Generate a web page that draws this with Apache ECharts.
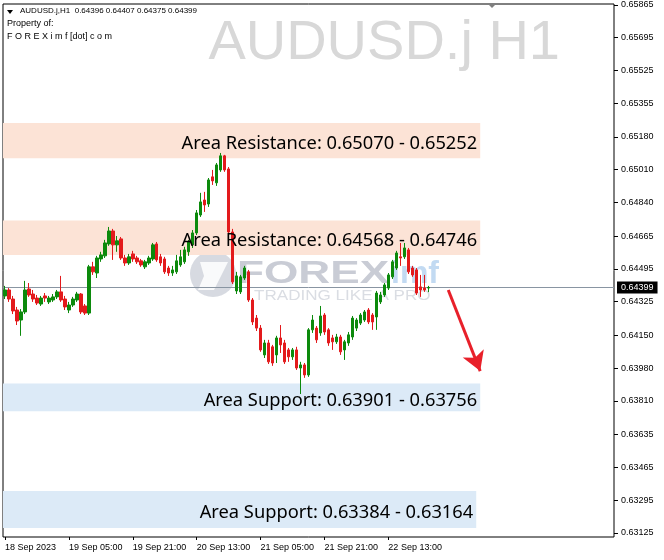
<!DOCTYPE html>
<html><head><meta charset="utf-8">
<script src="https://cdn.jsdelivr.net/npm/echarts@6/dist/echarts.min.js"></script>
<style>html,body{margin:0;padding:0;background:#fff}#c{width:664px;height:560px}</style>
</head><body><div id="c"></div>
<script>
// ---- data (AUDUSD.j H1, from 18 Sep 2023 13:00) ----
const opens = [0.64355,0.64386,0.64339,0.64282,0.64230,0.64272,0.64391,0.64365,0.64344,0.64313,
0.64355,0.64324,0.64334,0.64350,0.64376,0.64339,0.64282,0.64308,0.64334,0.64365,
0.64303,0.64266,0.64506,0.64474,0.64547,0.64563,0.64625,0.64692,0.64620,0.64651,
0.64552,0.64526,0.64573,0.64552,0.64537,0.64506,0.64526,0.64547,0.64625,0.64558,
0.64547,0.64500,0.64474,0.64480,0.64516,0.64532,0.64584,0.64620,0.64682,0.64775,
0.64853,0.64832,0.64973,0.64942,0.65009,0.65082,0.65014,0.64687,0.64381,0.64376,
0.64448,0.64480,0.64334,0.64240,0.64188,0.64049,0.64111,0.64091,0.64049,0.64137,
0.64111,0.64075,0.64039,0.64075,0.63981,0.63997,0.63945,0.64179,0.64188,0.64163,
0.64256,0.64179,0.64137,0.64117,0.64142,0.64075,0.64111,0.64142,0.64188,0.64214,
0.64230,0.64282,0.64256,0.64246,0.64324,0.64360,0.64396,0.64454,0.64500,0.64558,
0.64558,0.64594,0.64500,0.64490,0.64402,0.64396,0.64396];
const closes = [0.64386,0.64339,0.64277,0.64225,0.64272,0.64386,0.64360,0.64339,0.64318,0.64344,
0.64344,0.64344,0.64350,0.64376,0.64334,0.64298,0.64308,0.64339,0.64365,0.64272,
0.64266,0.64506,0.64480,0.64552,0.64568,0.64630,0.64692,0.64620,0.64641,0.64552,
0.64526,0.64558,0.64547,0.64532,0.64516,0.64532,0.64552,0.64620,0.64542,0.64526,
0.64480,0.64474,0.64490,0.64537,0.64558,0.64594,0.64635,0.64682,0.64786,0.64843,
0.64827,0.64957,0.64952,0.65035,0.65082,0.65009,0.64687,0.64428,0.64459,0.64454,
0.64500,0.64334,0.64220,0.64188,0.64075,0.64111,0.64013,0.64007,0.64137,0.64101,
0.64013,0.64039,0.64075,0.63981,0.63997,0.63945,0.64179,0.64230,0.64127,0.64251,
0.64168,0.64111,0.64117,0.64142,0.64065,0.64117,0.64153,0.64240,0.64230,0.64256,
0.64272,0.64220,0.64220,0.64370,0.64360,0.64412,0.64464,0.64532,0.64578,0.64552,
0.64604,0.64480,0.64464,0.64370,0.64386,0.64386,0.64399];
const highs = [0.64407,0.64396,0.64355,0.64298,0.64287,0.64433,0.64422,0.64386,0.64360,0.64355,
0.64370,0.64355,0.64365,0.64386,0.64459,0.64355,0.64324,0.64350,0.64376,0.64370,
0.64313,0.64516,0.64532,0.64563,0.64584,0.64646,0.64713,0.64703,0.64666,0.64661,
0.64568,0.64573,0.64589,0.64563,0.64547,0.64542,0.64563,0.64630,0.64635,0.64573,
0.64558,0.64511,0.64511,0.64568,0.64594,0.64610,0.64646,0.64697,0.64801,0.64890,
0.64895,0.64967,0.65009,0.65045,0.65097,0.65087,0.65024,0.64703,0.64480,0.64464,
0.64511,0.64490,0.64344,0.64256,0.64204,0.64127,0.64127,0.64101,0.64148,0.64204,
0.64127,0.64085,0.64085,0.64091,0.64013,0.64007,0.64188,0.64256,0.64199,0.64303,
0.64266,0.64188,0.64153,0.64158,0.64153,0.64127,0.64168,0.64251,0.64240,0.64266,
0.64282,0.64292,0.64266,0.64381,0.64376,0.64422,0.64474,0.64542,0.64589,0.64630,
0.64630,0.64604,0.64511,0.64500,0.64464,0.64464,0.64407];
const lows = [0.64339,0.64324,0.64261,0.64204,0.64148,0.64261,0.64350,0.64324,0.64308,0.64303,
0.64324,0.64313,0.64324,0.64339,0.64324,0.64282,0.64266,0.64298,0.64324,0.64261,
0.64256,0.64256,0.64464,0.64448,0.64532,0.64552,0.64615,0.64542,0.64584,0.64542,
0.64511,0.64516,0.64532,0.64521,0.64506,0.64495,0.64516,0.64537,0.64532,0.64511,
0.64469,0.64459,0.64459,0.64469,0.64506,0.64521,0.64563,0.64604,0.64671,0.64765,
0.64791,0.64817,0.64931,0.64926,0.64999,0.64999,0.64677,0.64417,0.64365,0.64365,
0.64438,0.64324,0.64204,0.64173,0.64065,0.64033,0.64002,0.63992,0.64007,0.64059,
0.64002,0.64013,0.64023,0.63971,0.63846,0.63930,0.63935,0.64163,0.64111,0.64148,
0.64153,0.64096,0.64075,0.64106,0.64049,0.64023,0.64096,0.64127,0.64173,0.64204,
0.64220,0.64209,0.64179,0.64179,0.64313,0.64350,0.64386,0.64443,0.64490,0.64511,
0.64547,0.64469,0.64454,0.64360,0.64350,0.64376,0.64375];

const yTickLabels = ['0.65865','0.65695','0.65525','0.65355','0.65180','0.65010','0.64840','0.64665',
  '0.64495','0.64325','0.64150','0.63980','0.63810','0.63635','0.63465','0.63295','0.63125'];
const xTickLabels = ['18 Sep 2023','19 Sep 05:00','19 Sep 21:00','20 Sep 13:00','21 Sep 05:00','21 Sep 21:00','22 Sep 13:00'];

const zoneNames = ['Area Resistance: 0.65070 - 0.65252','Area Resistance: 0.64568 - 0.64746',
  'Area Support: 0.63901 - 0.63756','Area Support: 0.63384 - 0.63164'];
// drawn extents of the boxes
const zoneLow  = [0.65070, 0.64568, 0.63756, 0.63151];
const zoneHigh = [0.65252, 0.64746, 0.63901, 0.63343];
const zoneKind = ['res','res','sup','sup'];
const zoneEndSlot = [119, 119, 119, 118];

const lastPrice = 0.64399;
const headerText = 'AUDUSD.j,H1  0.64396 0.64407 0.64375 0.64399';

// forecast arrow (slot index, price)
const arrowFrom = [111, 0.64386];
const arrowTo = [119, 0.63965];

// ---- build ----
const totalSlots = 153;
const startTime = Date.UTC(2023, 8, 18, 13);
const categories = [];
for (let i = 0; i < totalSlots; i++) {
  categories.push(new Date(startTime + i * 3600000).toISOString().slice(0, 16).replace('T', ' '));
}
const candleData = opens.map((o, i) => [o, closes[i], lows[i], highs[i]]);
const tickStep = 16;
const showTick = (idx) => idx % tickStep === 0 && idx / tickStep < xTickLabels.length;

const zoneColors = { res: '#fce3d6', sup: '#dceaf7' };
const fillAreas = zoneNames.map((n, i) => [
  { yAxis: zoneHigh[i], itemStyle: { color: zoneColors[zoneKind[i]] } },
  { xAxis: zoneEndSlot[i], yAxis: zoneLow[i] }
]);
const labelAreas = zoneNames.map((n, i) => [
  { name: n, yAxis: zoneHigh[i] },
  { xAxis: zoneEndSlot[i], yAxis: zoneLow[i] }
]);

const chart = echarts.init(document.getElementById('c'), null, { renderer: 'canvas' });
const fontAxis = '"Liberation Sans", Arial, sans-serif';
const fontSmall = '9px "Liberation Sans", Arial, sans-serif';

chart.setOption({
  animation: false,
  backgroundColor: '#ffffff',
  grid: { left: 3, right: 50, top: 4, bottom: 23, show: true, borderColor: '#000', borderWidth: 1, backgroundColor: 'transparent' },
  xAxis: {
    type: 'category', data: categories, boundaryGap: true,
    axisLine: { show: false },
    axisTick: { show: true, alignWithLabel: true, interval: (idx) => showTick(idx), length: 3, lineStyle: { color: '#000' } },
    axisLabel: { interval: (idx) => showTick(idx), formatter: (v, idx) => xTickLabels[Math.round(idx / tickStep)] || '',
      align: 'left', margin: 6, color: '#000', fontSize: 9, fontFamily: fontAxis },
    splitLine: { show: false }
  },
  yAxis: {
    type: 'value', position: 'right', min: 0.63104, max: 0.65870, scale: true,
    axisLine: { show: false },
    axisTick: { show: true, length: 4, lineStyle: { color: '#000' }, customValues: yTickLabels.map(Number) },
    axisLabel: { customValues: yTickLabels.map(Number), formatter: (v) => v.toFixed(5), margin: 7,
      color: '#000', fontSize: 9, fontFamily: fontAxis },
    splitLine: { show: false }
  },
  graphic: [
    { type: 'text', z: 0, right: 104, top: 16, style: { text: 'AUDUSD.j H1', fill: '#d8d8d8',
      font: '56px "Liberation Sans", Arial, sans-serif' } },
    { type: 'circle', z: 0, shape: { cx: 213, cy: 274, r: 23 }, style: { fill: '#d3d6de', opacity: 0.9 } },
    { type: 'polygon', z: 0, shape: { points: [[200,262],[228,262],[214,290],[198,290],[204,276]] }, style: { fill: '#ffffff', opacity: 0.85 } },
    { type: 'text', z: 0, x: 237, y: 258, scaleX: 1.38, style: { text: 'FOREX', fill: '#c9ccd5',
      font: 'bold 32px "Liberation Sans", Arial, sans-serif' } },
    { type: 'text', z: 0, x: 391, y: 258, style: { text: 'imf', fill: '#c2daf2',
      font: 'bold 32px "Liberation Sans", Arial, sans-serif' } },
    { type: 'text', z: 0, x: 254, y: 289, scaleX: 1.22, style: { text: 'TRADING LIKE A PRO', fill: '#dadde3',
      font: '14px "Liberation Sans", Arial, sans-serif' } },
    { type: 'polygon', z: 20, shape: { points: [[7,10],[13,10],[10,14]] }, style: { fill: '#000' } },
    { type: 'text', z: 20, x: 20, y: 7, style: { text: headerText, fill: '#000', font: '8px "Liberation Sans", Arial, sans-serif' } },
    { type: 'text', z: 20, x: 7, y: 19, style: { text: 'Property of:', fill: '#000', font: fontSmall } },
    { type: 'text', z: 20, x: 7, y: 32, style: { text: 'F O R E X i m f [dot] c o m', fill: '#000', font: fontSmall } },
    { type: 'polygon', z: 20, shape: { points: [[488,4],[496,4],[492,8]] }, style: { fill: '#7f7f7f' } }
  ],
  series: [
    {
      name: 'zones', type: 'line', data: [], silent: true, z: 1,
      markArea: { silent: true, z: 1, label: { show: false }, data: fillAreas }
    },
    {
      name: 'AUDUSD.j', type: 'candlestick', data: candleData, z: 3, barWidth: 3,
      itemStyle: { color: '#0c8a0c', color0: '#e31a1c', borderColor: '#0c8a0c', borderColor0: '#e31a1c', borderWidth: 1 },
      markLine: { silent: true, z: 2, precision: 5, symbol: 'none', animation: false,
        lineStyle: { color: '#8995a2', width: 1, type: 'solid' },
        label: { position: 'end', formatter: lastPrice.toFixed(5), color: '#fff', backgroundColor: '#000',
          padding: [2, 4, 1, 4], distance: 3, fontSize: 9, fontFamily: fontAxis },
        emphasis: { disabled: true },
        data: [{ yAxis: lastPrice }] }
    },
    {
      name: 'zoneLabels', type: 'line', data: [], silent: true, z: 10,
      markArea: { silent: true, z: 10, itemStyle: { color: 'rgba(0,0,0,0)' },
        label: { show: true, position: 'insideRight', distance: 3, offset: [0, 3], color: '#000', fontSize: 18.3,
          fontFamily: '"Noto Sans", "Open Sans", sans-serif' },
        data: labelAreas },
      markLine: { silent: true, z: 10, precision: 5, symbol: ['none', 'arrow'], symbolSize: [17, 19],
        lineStyle: { color: '#e8202a', width: 3, type: 'solid' }, label: { show: false },
        emphasis: { disabled: true },
        data: [[{ coord: arrowFrom }, { coord: arrowTo }]] }
    }
  ]
});
</script></body></html>
